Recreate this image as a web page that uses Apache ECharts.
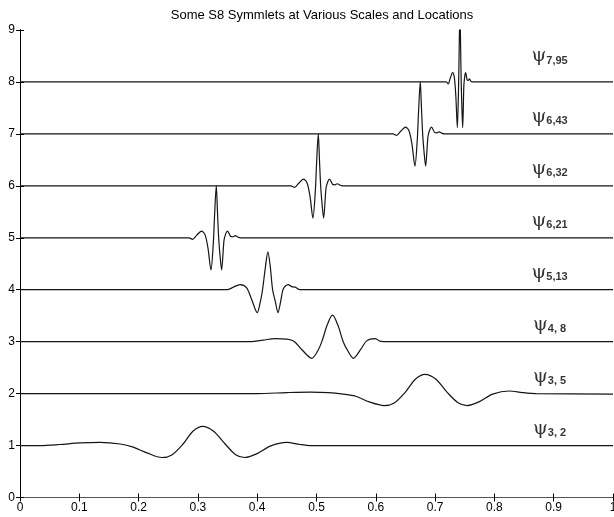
<!DOCTYPE html>
<html>
<head>
<meta charset="utf-8">
<script src="https://cdn.jsdelivr.net/npm/echarts@6/dist/echarts.min.js"></script>
<style>
  html, body { margin: 0; padding: 0; background: #fff; }
  #chart { width: 614px; height: 517px; }
</style>
</head>
<body>
<div id="chart"></div>
<script>
// wavelet curves, [t, value] (value already includes the level offset)
const psi3_2 = [[0, 1], [0.034, 1.0], [0.067, 1.02], [0.101, 1.05], [0.135, 1.06], [0.169, 1.03], [0.191, 0.97],
  [0.214, 0.86], [0.239, 0.77], [0.256, 0.82], [0.275, 1.03], [0.292, 1.28], [0.308, 1.37], [0.326, 1.28],
  [0.346, 1.03], [0.363, 0.83], [0.379, 0.77], [0.399, 0.84], [0.422, 0.99], [0.45, 1.06], [0.472, 1.02],
  [0.489, 1.0], [1, 1]]
const psi3_5 = [[0, 2], [0.4, 2.0], [0.45, 2.02], [0.49, 2.03], [0.52, 2.02], [0.545, 1.99], [0.566, 1.95],
  [0.589, 1.84], [0.614, 1.77], [0.631, 1.82], [0.65, 2.03], [0.667, 2.28], [0.683, 2.37], [0.701, 2.28],
  [0.72, 2.03], [0.738, 1.83], [0.754, 1.77], [0.774, 1.84], [0.797, 1.99], [0.825, 2.05], [0.847, 2.02],
  [0.87, 2.0], [1, 1.99]]
const psi4_8 = [[0, 3], [0.388, 3.0], [0.41, 3.03], [0.43, 3.06], [0.45, 3.05], [0.462, 3.01], [0.475, 2.85],
  [0.492, 2.68], [0.502, 2.82], [0.509, 3.0], [0.518, 3.32], [0.527, 3.51], [0.536, 3.32], [0.545, 3.0],
  [0.553, 2.82], [0.562, 2.68], [0.575, 2.86], [0.585, 3.02], [0.599, 3.06], [0.607, 3.01], [0.62, 3.0], [1, 3]]
const psi5_13 = [[0, 4], [0.349, 4.0], [0.36, 4.05], [0.371, 4.1], [0.382, 4.04], [0.391, 3.8], [0.4, 3.56],
  [0.405, 3.75], [0.409, 4.0], [0.414, 4.45], [0.418, 4.73], [0.422, 4.45], [0.426, 4.0], [0.431, 3.75],
  [0.435, 3.56], [0.44, 3.8], [0.444, 4.02], [0.452, 4.1], [0.458, 4.06], [0.464, 4.05], [0.472, 4.0], [1, 4]]
const psi6_21 = [[0, 5], [0.285, 5.0], [0.291, 4.97], [0.298, 5.05], [0.306, 5.13], [0.312, 5.06], [0.317, 4.8],
  [0.322, 4.38], [0.326, 4.9], [0.328, 5.4], [0.331, 6.0], [0.333, 5.5], [0.335, 5.0], [0.337, 4.7],
  [0.34, 4.38], [0.344, 4.95], [0.347, 5.08], [0.35, 5.13], [0.355, 5.03], [0.359, 5.02], [0.363, 5.04],
  [0.368, 5.01], [0.372, 5.0], [1, 5]]
const psi6_32 = [[0, 6], [0.457, 6.0], [0.463, 5.97], [0.47, 6.05], [0.478, 6.13], [0.484, 6.06], [0.489, 5.8],
  [0.494, 5.38], [0.498, 5.9], [0.5, 6.4], [0.503, 7.0], [0.505, 6.5], [0.507, 6.0], [0.509, 5.7],
  [0.512, 5.38], [0.516, 5.95], [0.519, 6.08], [0.522, 6.13], [0.527, 6.03], [0.531, 6.02], [0.535, 6.04],
  [0.54, 6.01], [0.544, 6.0], [1, 6]]
const psi6_43 = [[0, 7], [0.629, 7.0], [0.635, 6.97], [0.642, 7.05], [0.65, 7.13], [0.656, 7.06], [0.661, 6.8],
  [0.666, 6.38], [0.67, 6.9], [0.672, 7.4], [0.675, 8.0], [0.677, 7.5], [0.679, 7.0], [0.681, 6.7],
  [0.684, 6.38], [0.688, 6.95], [0.691, 7.08], [0.694, 7.13], [0.699, 7.03], [0.703, 7.02], [0.707, 7.04],
  [0.712, 7.01], [0.716, 7.0], [1, 7]]
const psi7_95 = [[0, 8], [0.719, 8.0], [0.722, 7.96], [0.7255, 8.07], [0.7295, 8.18], [0.7325, 8.08],
  [0.735, 7.72], [0.7375, 7.12], [0.7395, 7.86], [0.7405, 8.56], [0.742, 9.45], [0.743, 8.7], [0.744, 8.0],
  [0.745, 7.58], [0.7465, 7.12], [0.7485, 7.93], [0.75, 8.11], [0.7515, 8.18], [0.754, 8.04], [0.756, 8.03],
  [0.758, 8.06], [0.7605, 8.01], [0.7625, 8.0], [1, 8]]

const curves = [psi3_2, psi3_5, psi4_8, psi5_13, psi6_21, psi6_32, psi6_43, psi7_95]
const subscripts = ['3, 2', '3, 5', '4, 8', '5,13', '6,21', '6,32', '6,43', '7,95']
const levels = [1, 2, 3, 4, 5, 6, 7, 8]

const chart = echarts.init(document.getElementById('chart'))

const lineSeries = curves.map((d, i) => ({
  type: 'line',
  name: 'psi' + subscripts[i],
  data: d,
  showSymbol: false,
  smooth: 0.3,
  lineStyle: { color: '#151515', width: 1.2 },
  silent: true,
  z: 3
}))

// the psi_{j,k} tags sit a bit above each level line (the top one a little higher)
const tagSeries = {
  type: 'scatter',
  symbolSize: 0,
  silent: true,
  data: levels.map((lv, i) => [0.893, lv + (lv === 8 ? 0.5 : 0.33), subscripts[i]]),
  label: {
    show: true,
    position: 'inside',
    formatter: p => '{psi|ψ}{sub|' + p.value[2] + '}',
    rich: {
      psi: { fontFamily: 'DejaVu Serif', fontSize: 19, color: '#000', verticalAlign: 'bottom', lineHeight: 20 },
      sub: { fontFamily: 'Liberation Sans', fontSize: 11, fontWeight: 'bold', color: '#000', verticalAlign: 'bottom', lineHeight: 13 }
    }
  }
}

const axisFont = { fontFamily: 'Liberation Sans', fontSize: 12, color: '#000' }

chart.setOption({
  animation: false,
  title: {
    text: 'Some S8 Symmlets at Various Scales and Locations',
    left: 317,
    top: 4,
    textAlign: 'center',
    textStyle: { fontFamily: 'Liberation Sans', fontSize: 13, fontWeight: 'normal', color: '#000' }
  },
  grid: { left: 20, right: 1, top: 30, bottom: 19.5, outerBoundsMode: 'none', containLabel: false },
  xAxis: [
    {
      type: 'value', min: 0, max: 1, interval: 0.1,
      axisLine: { lineStyle: { color: '#000', width: 1 } },
      axisTick: { inside: true, length: 4, lineStyle: { color: '#000' } },
      axisLabel: Object.assign({ margin: 4 }, axisFont),
      splitLine: { show: false }
    },
    {
      type: 'value', min: 0, max: 1, interval: 0.1, position: 'top',
      axisLine: { lineStyle: { color: '#555', width: 1 } },
      axisTick: { inside: true, length: 4, lineStyle: { color: '#000' } },
      axisLabel: { show: false },
      splitLine: { show: false }
    }
  ],
  yAxis: [
    {
      type: 'value', min: 0, max: 9, interval: 1,
      axisLine: { show: true, lineStyle: { color: '#000', width: 1 } },
      axisTick: { show: true, inside: true, length: 4, lineStyle: { color: '#000' } },
      axisLabel: Object.assign({ margin: 5 }, axisFont),
      splitLine: { show: false }
    },
    {
      type: 'value', min: 0, max: 9, interval: 1, position: 'right',
      axisLine: { show: true, lineStyle: { color: '#000', width: 1 } },
      axisTick: { show: true, inside: true, length: 4, lineStyle: { color: '#000' } },
      axisLabel: { show: false },
      splitLine: { show: false }
    }
  ],
  series: lineSeries.concat([tagSeries])
})
</script>
</body>
</html>
